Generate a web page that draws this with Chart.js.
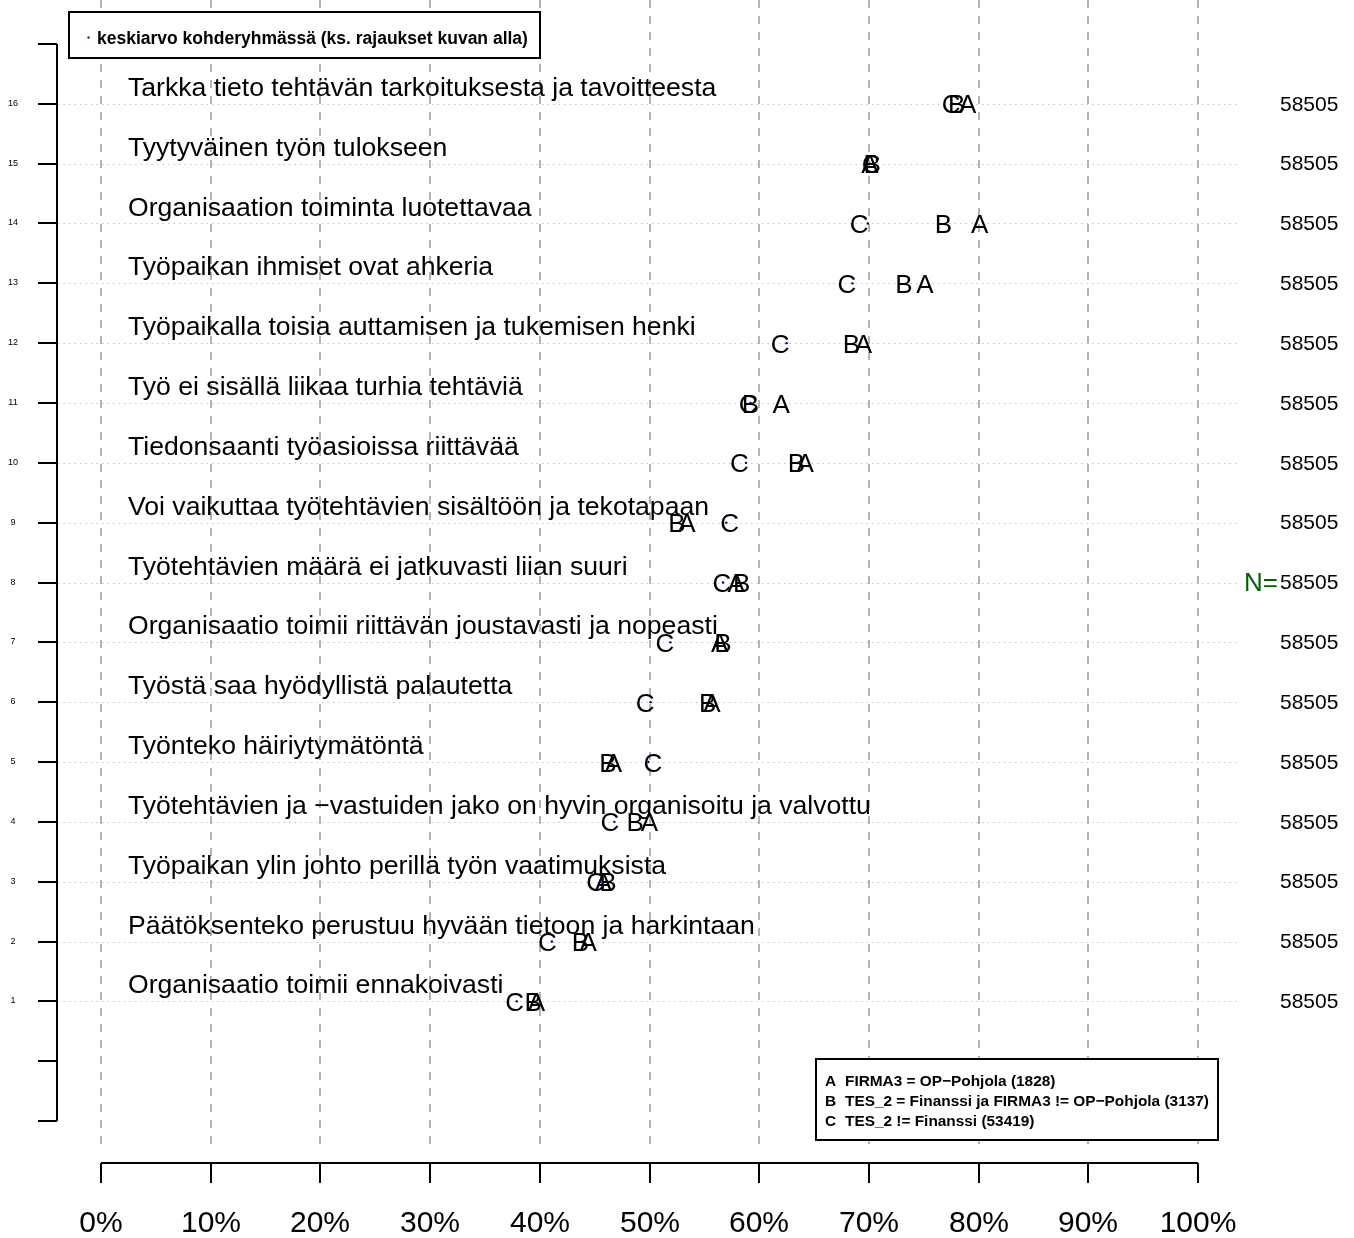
<!DOCTYPE html>
<html><head><meta charset="utf-8">
<script src="https://cdn.jsdelivr.net/npm/chart.js@4/dist/chart.umd.min.js"></script>
<style>html,body{margin:0;padding:0;background:#fff;}canvas{display:block;}</style>
</head><body>
<canvas id="c" width="1354" height="1238"></canvas>
<script>
// Rows listed top to bottom
const rowLabels = [
  'Tarkka tieto tehtävän tarkoituksesta ja tavoitteesta',
  'Tyytyväinen työn tulokseen',
  'Organisaation toiminta luotettavaa',
  'Työpaikan ihmiset ovat ahkeria',
  'Työpaikalla toisia auttamisen ja tukemisen henki',
  'Työ ei sisällä liikaa turhia tehtäviä',
  'Tiedonsaanti työasioissa riittävää',
  'Voi vaikuttaa työtehtävien sisältöön ja tekotapaan',
  'Työtehtävien määrä ei jatkuvasti liian suuri',
  'Organisaatio toimii riittävän joustavasti ja nopeasti',
  'Työstä saa hyödyllistä palautetta',
  'Työnteko häiriytymätöntä',
  'Työtehtävien ja −vastuiden jako on hyvin organisoitu ja valvottu',
  'Työpaikan ylin johto perillä työn vaatimuksista',
  'Päätöksenteko perustuu hyvään tietoon ja harkintaan',
  'Organisaatio toimii ennakoivasti'
];
const rowPos = [16,15,14,13,12,11,10,9,8,7,6,5,4,3,2,1];
const seriesA = [79.0,70.1,80.1,75.1,69.5,62.0,64.2,53.4,57.9,56.4,55.7,46.7,50.0,45.8,44.4,39.7];
const seriesB = [78.0,70.3,76.8,73.2,68.4,59.2,63.4,52.5,58.4,56.7,55.3,46.2,48.7,46.2,43.7,39.4];
const seriesC = [77.5,70.2,69.1,68.0,61.9,59.0,58.2,57.3,56.6,51.4,49.6,50.3,46.4,45.1,40.7,37.7];
const targetMean = [77.7,70.1,69.9,68.5,62.5,59.2,58.8,57.0,56.7,51.9,50.1,49.9,46.8,45.5,41.1,37.9];
const nValues = [58505,58505,58505,58505,58505,58505,58505,58505,58505,58505,58505,58505,58505,58505,58505,58505];
const nMarkerRow = 8;
const xTicks = [0,10,20,30,40,50,60,70,80,90,100];
const xTickLabels = ['0%','10%','20%','30%','40%','50%','60%','70%','80%','90%','100%'];
const yTicks = [-1,0,1,2,3,4,5,6,7,8,9,10,11,12,13,14,15,16,17];
const yTickLabels = ['','','1','2','3','4','5','6','7','8','9','10','11','12','13','14','15','16',''];
const groupLetters = ['A','B','C'];
const groupDescriptions = ['FIRMA3 = OP−Pohjola (1828)','TES_2 = Finanssi ja FIRMA3 != OP−Pohjola (3137)','TES_2 != Finanssi (53419)'];
const meanLegend = 'keskiarvo kohderyhmässä (ks. rajaukset kuvan alla)';

const FONT = "'Liberation Sans', Arial, Helvetica, sans-serif";
const groups = [seriesA, seriesB, seriesC];

const datasets = groups.map((s, g) => ({
  label: groupLetters[g],
  data: rowPos.map((y, i) => ({x: s[i], y})),
  pointRadius: 0, pointHoverRadius: 0, showLine: false
}));
datasets.push({
  label: 'mean',
  data: rowPos.map((y, i) => ({x: targetMean[i], y})),
  pointRadius: 1.2, pointHoverRadius: 1.2, borderWidth: 0,
  backgroundColor: '#000080', borderColor: '#000080', showLine: false
});

const plotPlugin = {
  id: 'rplot',
  beforeDatasetsDraw(chart) {
    const ctx = chart.ctx;
    const xs = chart.scales.x, ys = chart.scales.y;
    ctx.save();
    // vertical dashed grid
    ctx.strokeStyle = '#b4b4b4';
    ctx.lineWidth = 2;
    ctx.setLineDash([8, 8]);
    xTicks.forEach(v => {
      const x = Math.round(xs.getPixelForValue(v));
      ctx.beginPath(); ctx.moveTo(x, 0); ctx.lineTo(x, 1150); ctx.stroke();
    });
    // horizontal dotted lines
    ctx.strokeStyle = '#c4c4c4';
    ctx.lineWidth = 1;
    ctx.setLineDash([1.5, 4]);
    rowPos.forEach(r => {
      const y = Math.round(ys.getPixelForValue(r)) + 0.5;
      ctx.beginPath(); ctx.moveTo(58, y); ctx.lineTo(1240, y); ctx.stroke();
    });
    ctx.setLineDash([]);
    // y axis
    ctx.strokeStyle = '#000';
    ctx.lineWidth = 2;
    const axX = 57;
    ctx.beginPath();
    ctx.moveTo(axX, ys.getPixelForValue(yTicks[yTicks.length-1]));
    ctx.lineTo(axX, ys.getPixelForValue(yTicks[0]));
    ctx.stroke();
    ctx.fillStyle = '#000';
    ctx.font = '9px ' + FONT;
    ctx.textAlign = 'center'; ctx.textBaseline = 'middle';
    yTicks.forEach((v, i) => {
      const y = Math.round(ys.getPixelForValue(v));
      ctx.beginPath(); ctx.moveTo(38, y); ctx.lineTo(axX, y); ctx.stroke();
      if (yTickLabels[i]) ctx.fillText(yTickLabels[i], 13, y);
    });
    // x axis
    const axY = 1163;
    ctx.beginPath();
    ctx.moveTo(xs.getPixelForValue(xTicks[0]), axY);
    ctx.lineTo(xs.getPixelForValue(xTicks[xTicks.length-1]), axY);
    ctx.stroke();
    ctx.font = '30px ' + FONT;
    ctx.textBaseline = 'alphabetic';
    xTicks.forEach((v, i) => {
      const x = Math.round(xs.getPixelForValue(v));
      ctx.beginPath(); ctx.moveTo(x, axY); ctx.lineTo(x, 1183); ctx.stroke();
      ctx.fillText(xTickLabels[i], x, 1232);
    });
    // row labels
    ctx.font = '26.6px ' + FONT;
    ctx.textAlign = 'left';
    rowPos.forEach((r, i) => {
      const y = ys.getPixelForValue(r);
      ctx.fillText(rowLabels[i], chart.chartArea.left + 27, y - 8);
    });
    // N values
    ctx.textBaseline = 'middle';
    rowPos.forEach((r, i) => {
      const y = ys.getPixelForValue(r);
      ctx.fillStyle = '#000';
      ctx.font = '21px ' + FONT;
      ctx.textAlign = 'left';
      ctx.fillText(String(nValues[i]), 1280, y + 1);
      if (r === nMarkerRow) {
        ctx.fillStyle = '#006400';
        ctx.font = '26px ' + FONT;
        ctx.textAlign = 'right';
        ctx.fillText('N=', 1278, y + 1);
      }
    });
    // group letters at data points
    ctx.fillStyle = '#000';
    ctx.font = '26px ' + FONT;
    ctx.textAlign = 'center';
    ctx.textBaseline = 'alphabetic';
    for (let g = 0; g < 3; g++) {
      const meta = chart.getDatasetMeta(g);
      meta.data.forEach(el => {
        ctx.fillText(groupLetters[g], el.x, el.y + 9.5);
      });
    }
    ctx.restore();
  },
  afterDraw(chart) {
    const ctx = chart.ctx;
    ctx.save();
    // top legend
    ctx.fillStyle = '#fff';
    ctx.fillRect(69, 12, 471, 46);
    ctx.strokeStyle = '#000';
    ctx.lineWidth = 2;
    ctx.strokeRect(69, 12, 471, 46);
    ctx.fillStyle = '#000080';
    ctx.fillRect(87.5, 36.5, 2, 2);
    ctx.fillStyle = '#000';
    ctx.font = 'bold 17.5px ' + FONT;
    ctx.textAlign = 'left';
    ctx.textBaseline = 'alphabetic';
    ctx.fillText(meanLegend, 97, 43.5, 433);
    // bottom legend
    ctx.fillStyle = '#fff';
    ctx.fillRect(816, 1059, 402, 81);
    ctx.lineWidth = 2;
    ctx.strokeRect(816, 1059, 402, 81);
    ctx.fillStyle = '#000';
    ctx.font = 'bold 15.4px ' + FONT;
    const scale = Math.min(1, 365 / ctx.measureText(groupDescriptions[1]).width);
    groupLetters.forEach((L, i) => {
      const y = 1085.5 + i * 20;
      ctx.fillText(L, 825, y);
      const w = ctx.measureText(groupDescriptions[i]).width * scale;
      ctx.fillText(groupDescriptions[i], 845, y, w);
    });
    ctx.restore();
  }
};

new Chart(document.getElementById('c'), {
  type: 'scatter',
  data: { datasets },
  options: {
    responsive: false,
    animation: false,
    devicePixelRatio: 1,
    layout: { padding: { left: 101, right: 156, top: 44, bottom: 117 } },
    scales: {
      x: { type: 'linear', min: 0, max: 100, display: false },
      y: { type: 'linear', min: -1, max: 17, display: false }
    },
    plugins: { legend: { display: false }, tooltip: { enabled: false } },
    events: []
  },
  plugins: [plotPlugin]
});
</script>
</body></html>
